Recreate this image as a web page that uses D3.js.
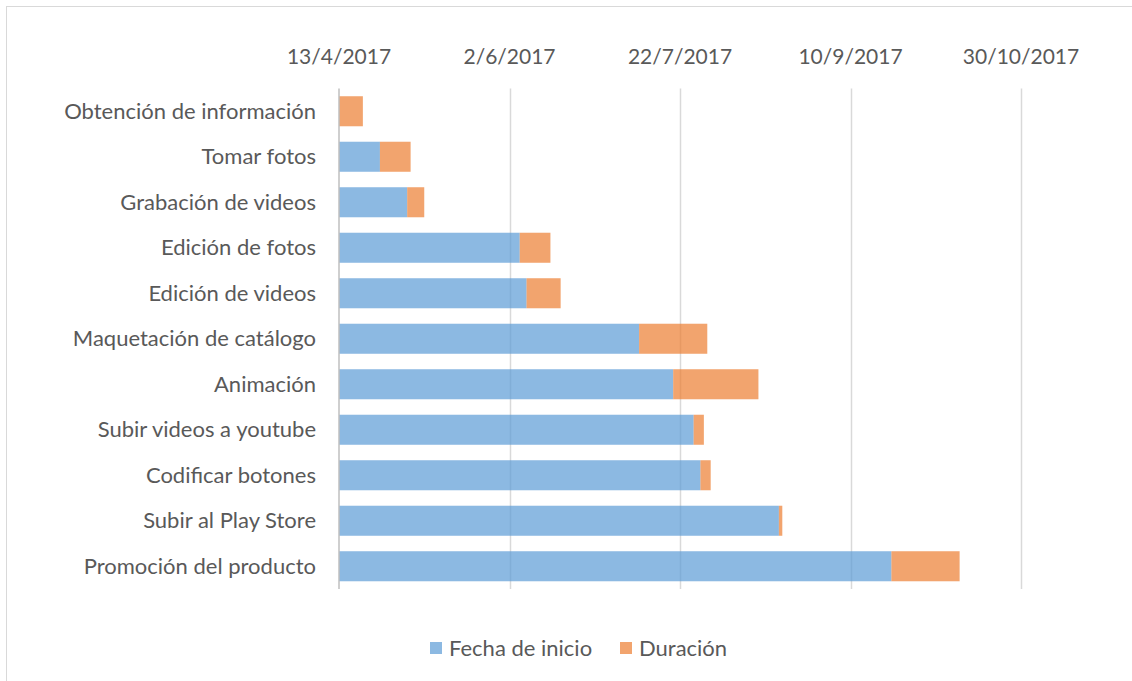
<!DOCTYPE html>
<html>
<head>
<meta charset="utf-8">
<script src="https://cdn.jsdelivr.net/npm/d3@7"></script>
<style>
  html, body { margin: 0; padding: 0; background: #fff; }
  svg { display: block; font-family: Lato, "Open Sans", sans-serif; }
  .lbl { fill: #595959; font-size: 22px; }
  .tick-lbl { fill: #595959; font-size: 21px; }
</style>
</head>
<body>
<div id="chart"></div>
<script>
const tasks = [
  "Obtención de información",
  "Tomar fotos",
  "Grabación de videos",
  "Edición de fotos",
  "Edición de videos",
  "Maquetación de catálogo",
  "Animación",
  "Subir videos a youtube",
  "Codificar botones",
  "Subir al Play Store",
  "Promoción del producto",
];
const startDates = [
  "2017-04-13", "2017-04-25", "2017-05-03", "2017-06-05", "2017-06-07",
  "2017-07-10", "2017-07-20", "2017-07-26", "2017-07-28", "2017-08-20", "2017-09-22",
];
const durations = [7, 9, 5, 9, 10, 20, 25, 3, 3, 1, 20];
const tickDates = ["2017-04-13", "2017-06-02", "2017-07-22", "2017-09-10", "2017-10-30"];
const seriesNames = ["Fecha de inicio", "Duración"];
const seriesColors = ["#5B9BD5", "#ED7D31"];

const width = 1132;
const height = 681;
const margin = { top: 88.5, right: 111, bottom: 92, left: 339 };

const parse = d3.utcParse("%Y-%m-%d");
const dayMs = 24 * 3600 * 1000;
const ticks = tickDates.map(parse);
const rows = tasks.map((name, i) => {
  const start = parse(startDates[i]);
  return { name, start, end: new Date(start.getTime() + durations[i] * dayMs) };
});

const svg = d3.select("#chart").append("svg").attr("width", width).attr("height", height);

svg.append("rect")
  .attr("x", 6.5).attr("y", 6.5)
  .attr("width", width + 20).attr("height", height + 20)
  .attr("fill", "#fff").attr("stroke", "#d9d9d9");

const x = d3.scaleUtc()
  .domain([ticks[0], ticks[ticks.length - 1]])
  .range([margin.left, width - margin.right]);

const y = d3.scaleBand()
  .domain(tasks)
  .range([margin.top, height - margin.bottom])
  .paddingInner(0.34)
  .paddingOuter(0.17);

// gridlines
svg.append("g")
  .selectAll("line")
  .data(ticks.slice(1))
  .join("line")
  .attr("x1", (d) => Math.round(x(d)) + 0.5)
  .attr("x2", (d) => Math.round(x(d)) + 0.5)
  .attr("y1", margin.top)
  .attr("y2", height - margin.bottom)
  .attr("stroke", "#d9d9d9")
  .attr("stroke-width", 1.5);

// tick labels on top
const fmt = d3.utcFormat("%-d/%-m/%Y");
svg.append("g")
  .selectAll("text")
  .data(ticks)
  .join("text")
  .attr("class", "tick-lbl")
  .attr("x", (d) => x(d))
  .attr("y", 57)
  .attr("dy", "0.35em")
  .attr("text-anchor", "middle")
  .text(fmt);

// bars
const barG = svg.append("g");
barG.selectAll("rect.start")
  .data(rows)
  .join("rect")
  .attr("class", "start")
  .attr("x", x(ticks[0]))
  .attr("y", (d) => y(d.name))
  .attr("width", (d) => x(d.start) - x(ticks[0]))
  .attr("height", y.bandwidth())
  .attr("fill", seriesColors[0])
  .attr("fill-opacity", 0.7);

barG.selectAll("rect.dur")
  .data(rows)
  .join("rect")
  .attr("class", "dur")
  .attr("x", (d) => x(d.start))
  .attr("y", (d) => y(d.name))
  .attr("width", (d) => x(d.end) - x(d.start))
  .attr("height", y.bandwidth())
  .attr("fill", seriesColors[1])
  .attr("fill-opacity", 0.7);

// category axis
svg.append("line")
  .attr("x1", margin.left).attr("x2", margin.left)
  .attr("y1", margin.top).attr("y2", height - margin.bottom)
  .attr("stroke", "#bfbfbf")
  .attr("stroke-width", 1.5);

svg.append("g")
  .selectAll("text")
  .data(tasks)
  .join("text")
  .attr("class", "lbl")
  .attr("x", 316)
  .attr("y", (d) => y(d) + y.bandwidth() / 2)
  .attr("dy", "0.35em")
  .attr("text-anchor", "end")
  .text((d) => d);

// legend
const legendX = [430, 620];
const legend = svg.append("g")
  .selectAll("g")
  .data(seriesNames)
  .join("g")
  .attr("transform", (d, i) => `translate(${legendX[i]}, 648)`);

legend.append("rect")
  .attr("x", 0).attr("y", -6)
  .attr("width", 12).attr("height", 12)
  .attr("fill", (d, i) => seriesColors[i])
  .attr("fill-opacity", 0.7);

legend.append("text")
  .attr("class", "lbl")
  .attr("x", 19)
  .attr("dy", "0.35em")
  .text((d) => d);
</script>
</body>
</html>
